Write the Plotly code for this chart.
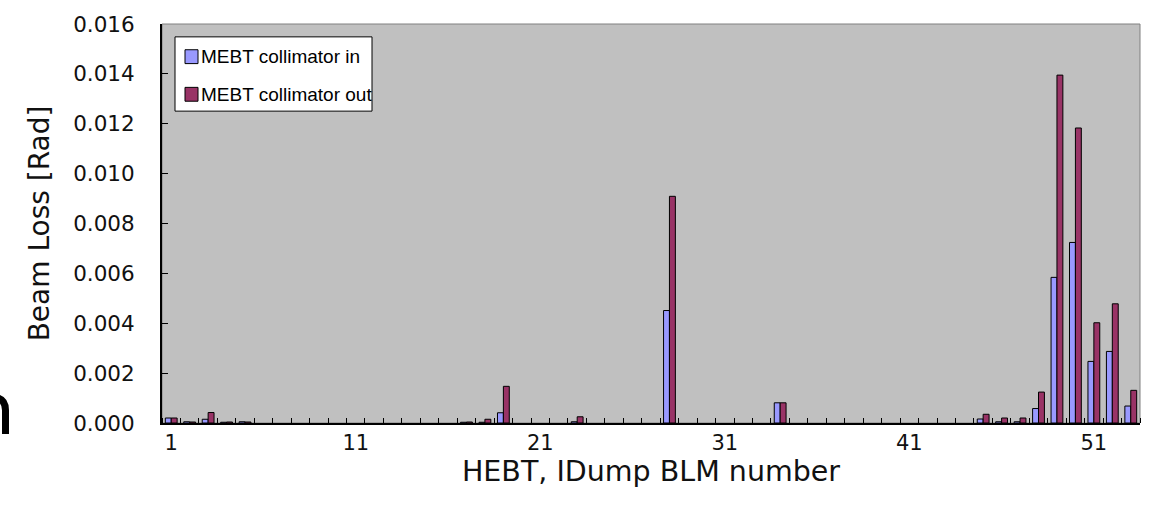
import plotly.graph_objects as go

blm_number = list(range(1, 54))

collimator_in = [
    0.00020, 0.00005, 0.00015, 0.00003, 0.00005, 0, 0, 0, 0, 0,
    0, 0, 0, 0, 0, 0, 0.00003, 0.00003, 0.00041, 0,
    0, 0, 0.00005, 0, 0, 0, 0, 0.00451, 0, 0,
    0, 0, 0, 0.00081, 0, 0, 0, 0, 0, 0,
    0, 0, 0, 0, 0.00016, 0.00005, 0.00005, 0.00058, 0.00584, 0.00724,
    0.00247, 0.00287, 0.00068,
]
collimator_out = [
    0.00020, 0.00004, 0.00042, 0.00004, 0.00004, 0, 0, 0, 0, 0,
    0, 0, 0, 0, 0, 0, 0.00004, 0.00015, 0.00147, 0,
    0, 0, 0.00025, 0, 0, 0, 0, 0.00909, 0, 0,
    0, 0, 0, 0.00081, 0, 0, 0, 0, 0, 0,
    0, 0, 0, 0, 0.00035, 0.00020, 0.00020, 0.00124, 0.01395, 0.01183,
    0.00402, 0.00478, 0.00131,
]

series_names = ["MEBT collimator in", "MEBT collimator out"]
series_colors = ["#9999FF", "#993366"]

x_tick_values = [1, 11, 21, 31, 41, 51]
y_tick_values = [0.000, 0.002, 0.004, 0.006, 0.008, 0.010, 0.012, 0.014, 0.016]

FONT = "DejaVu Sans"
LEGEND_FONT = "Liberation Sans"

# plot area in pixels: x 162..1140, y 20..423
L, R, T, B = 162, 1140, 20, 423
def px(x):
    return (x - L) / (R - L)
def py(y):
    return (B - y) / (B - T)

fig = go.Figure()
for name, vals, col in zip(series_names, [collimator_in, collimator_out], series_colors):
    fig.add_trace(go.Bar(
        x=blm_number, y=[v if v > 0 else None for v in vals], name=name,
        marker=dict(color=col, line=dict(color="black", width=1)),
        hoverinfo="x+y+name",
    ))

shapes = [
    dict(type="rect", xref="paper", yref="paper", x0=0, x1=1, y0=0, y1=1,
         line=dict(color="#808080", width=1), layer="below"),
    # legend box
    dict(type="rect", xref="paper", yref="paper", x0=px(175), x1=px(372), y0=py(108), y1=py(33),
         fillcolor="white", line=dict(color="black", width=1)),
    # cut-off stroke fragment at the far left edge
    dict(type="path", xref="paper", yref="paper",
         path=f"M {px(5.5)} {py(434)} L {px(5.5)} {py(410)} Q {px(5.5)} {py(398)} {px(-6)} {py(397)}",
         line=dict(color="black", width=7)),
]
annotations = []
row_centers = [53, 91]
for name, col, yc in zip(series_names, series_colors, row_centers):
    shapes.append(dict(type="rect", xref="paper", yref="paper",
                       x0=px(185), x1=px(198), y0=py(yc + 7), y1=py(yc - 7),
                       fillcolor=col, line=dict(color="black", width=1)))
    annotations.append(dict(xref="paper", yref="paper", x=px(199), y=py(yc),
                            xanchor="left", yanchor="middle", showarrow=False,
                            text=name, font=dict(family=LEGEND_FONT, size=19, color="black")))

fig.update_layout(
    width=1154, height=515,
    margin=dict(l=L, r=1154 - R, t=T, b=515 - B),
    paper_bgcolor="white",
    plot_bgcolor="#C0C0C0",
    barmode="group",
    bargap=0.36,
    bargroupgap=0,
    font=dict(family=FONT, color="black", size=20),
    showlegend=False,
    shapes=shapes,
    annotations=annotations,
)

fig.update_xaxes(
    range=[0.5, 53.5],
    tickmode="array", tickvals=x_tick_values, ticktext=[str(v) for v in x_tick_values],
    ticks="", showgrid=False, zeroline=False,
    showline=True, linecolor="black", linewidth=2,
    tickfont=dict(family=FONT, size=21, color="#111"),
    minor=dict(ticks="inside", tick0=0.5, dtick=1, ticklen=5, tickcolor="black", tickwidth=1, showgrid=False),
    title=dict(text="HEBT, IDump BLM number", font=dict(family=FONT, size=28.5, color="#111"), standoff=5),
)
fig.update_yaxes(
    range=[0, 0.016],
    tickmode="array", tickvals=y_tick_values, tickformat=".3f",
    ticks="inside", ticklen=6, tickcolor="black", tickwidth=1,
    showgrid=False, zeroline=False,
    showline=True, linecolor="black", linewidth=2,
    tickfont=dict(family=FONT, size=21.5, color="#111"),
    ticklabelstandoff=21,
    title=dict(text="Beam Loss [Rad]", font=dict(family=FONT, size=28, color="#111"), standoff=15),
)

fig.write_html("out.html")
